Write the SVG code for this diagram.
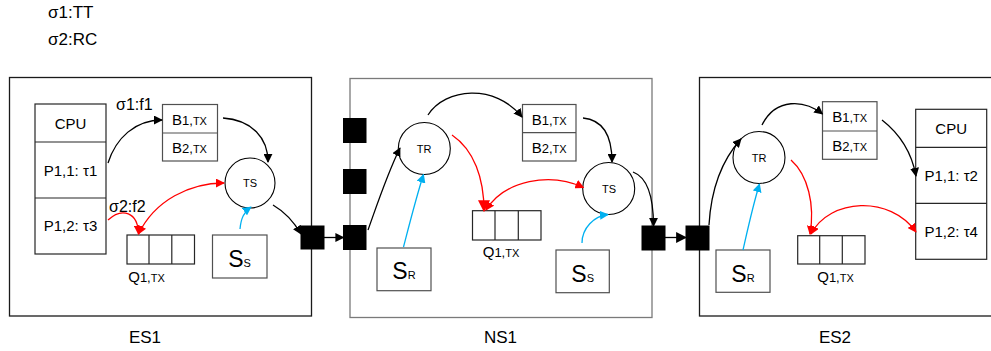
<svg xmlns="http://www.w3.org/2000/svg" width="991" height="351" viewBox="0 0 991 351">
<style>
text{font-family:"Liberation Sans",Arial,sans-serif;fill:#000}
.outer{fill:#fff;stroke:#1a1a1a;stroke-width:1.3}
.outerg{fill:#fff;stroke:#7a7a7a;stroke-width:1.3}
.box{fill:#fff;stroke:#262626;stroke-width:1.2}
.boxg{fill:#fff;stroke:#505050;stroke-width:1.2}
.port{fill:#000;stroke:#000}
.circ{fill:#fff;stroke:#000;stroke-width:1.1}
.lbl{font-size:17px;text-anchor:middle}
.cell{font-size:15px;text-anchor:middle}
.small{font-size:11px;text-anchor:middle}
.big{text-anchor:middle}
.k{fill:none;stroke:#000;stroke-width:1.3;marker-end:url(#ak)}
.r{fill:none;stroke:#ff0000;stroke-width:1.3;marker-end:url(#ar)}
.rr{fill:none;stroke:#ff0000;stroke-width:1.3;marker-start:url(#ar);marker-end:url(#ar)}
.b{fill:none;stroke:#00b0f0;stroke-width:1.3;marker-end:url(#ab)}
</style>
<defs>
<marker id="ak" viewBox="0 0 10 10" refX="9" refY="5" markerUnits="userSpaceOnUse" markerWidth="9" markerHeight="9" orient="auto-start-reverse"><path d="M0,0 L10,5 L0,10 z" fill="#000"/></marker>
<marker id="ar" viewBox="0 0 10 10" refX="9" refY="5" markerUnits="userSpaceOnUse" markerWidth="9" markerHeight="9" orient="auto-start-reverse"><path d="M0,0 L10,5 L0,10 z" fill="#ff0000"/></marker>
<marker id="arb" viewBox="0 0 10 10" refX="9" refY="5" markerUnits="userSpaceOnUse" markerWidth="12" markerHeight="12" orient="auto"><path d="M0,0 L10,5 L0,10 z" fill="#ff0000"/></marker>
<marker id="ab" viewBox="0 0 10 10" refX="9" refY="5" markerUnits="userSpaceOnUse" markerWidth="9" markerHeight="9" orient="auto"><path d="M0,0 L10,5 L0,10 z" fill="#00b0f0"/></marker>
<marker id="akb" viewBox="0 0 10 10" refX="9" refY="5" markerUnits="userSpaceOnUse" markerWidth="11" markerHeight="11" orient="auto"><path d="M0,0 L10,5 L0,10 z" fill="#000"/></marker>
</defs>

<text x="48" y="18" font-size="17">σ1:TT</text>
<text x="48" y="45" font-size="17">σ2:RC</text>

<!-- ES1 -->
<g id="ES1">
<rect class="outer" x="9.5" y="77.5" width="302" height="238.5"/>
<text class="lbl" x="145" y="343">ES1</text>
</g>
<g id="ES1-CPU">
<rect class="box" x="35" y="104" width="71" height="150"/>
<line x1="35" y1="142" x2="106" y2="142" stroke="#262626" stroke-width="1.2"/>
<line x1="35" y1="198" x2="106" y2="198" stroke="#262626" stroke-width="1.2"/>
<text class="cell" x="70.5" y="128.5">CPU</text>
<text class="cell" x="70.5" y="176">P1,1: τ1</text>
<text class="cell" x="70.5" y="231">P1,2: τ3</text>
</g>
<g id="ES1-B">
<rect class="boxg" x="162.5" y="104.5" width="55" height="56.5"/>
<line x1="162.5" y1="133" x2="217.5" y2="133" stroke="#505050" stroke-width="1.2"/>
<text class="big" x="189.5" y="124.5"><tspan font-size="15">B</tspan><tspan font-size="13">1,</tspan><tspan font-size="11">TX</tspan></text>
<text class="big" x="189.5" y="153"><tspan font-size="15">B</tspan><tspan font-size="13">2,</tspan><tspan font-size="11">TX</tspan></text>
</g>
<g id="ES1-TS">
<circle class="circ" cx="250" cy="183" r="25"/>
<text class="small" x="250" y="187">TS</text>
</g>
<g id="ES1-Q">
<rect class="box" x="127" y="235" width="67.5" height="29"/>
<line x1="149" y1="235" x2="149" y2="264" stroke="#262626" stroke-width="1.2"/>
<line x1="171.8" y1="235" x2="171.8" y2="264" stroke="#262626" stroke-width="1.2"/>
<text class="big" x="146.5" y="282"><tspan font-size="15">Q</tspan><tspan font-size="13">1,</tspan><tspan font-size="11">TX</tspan></text>
</g>
<g id="ES1-SS">
<rect class="boxg" x="212.5" y="235" width="54.5" height="43"/>
<text class="big" x="239.5" y="267"><tspan font-size="23">S</tspan><tspan font-size="11">S</tspan></text>
</g>
<g id="ES1-port">
<rect class="port" x="301" y="226" width="23" height="23"/>
</g>

<!-- NS1 -->
<g id="NS1">
<rect class="outerg" x="350" y="78.5" width="302" height="239"/>
<text class="lbl" x="500.5" y="343">NS1</text>
</g>
<g id="NS1-ports">
<rect class="port" x="343.5" y="118.5" width="22.5" height="24"/>
<rect class="port" x="343.5" y="169.5" width="22.5" height="24"/>
<rect class="port" x="343.5" y="225.5" width="22.5" height="24"/>
<rect class="port" x="642" y="226" width="23" height="24"/>
</g>
<g id="NS1-TR">
<circle class="circ" cx="424.3" cy="148.5" r="26"/>
<text class="small" x="424" y="152.5">TR</text>
</g>
<g id="NS1-B">
<rect class="boxg" x="522.5" y="104.5" width="53.5" height="56.5"/>
<line x1="522.5" y1="132.7" x2="576" y2="132.7" stroke="#505050" stroke-width="1.2"/>
<text class="big" x="549.2" y="124.5"><tspan font-size="15">B</tspan><tspan font-size="13">1,</tspan><tspan font-size="11">TX</tspan></text>
<text class="big" x="549.2" y="152.5"><tspan font-size="15">B</tspan><tspan font-size="13">2,</tspan><tspan font-size="11">TX</tspan></text>
</g>
<g id="NS1-TS">
<circle class="circ" cx="608.7" cy="188.5" r="26"/>
<text class="small" x="609" y="192.5">TS</text>
</g>
<g id="NS1-Q">
<rect class="box" x="472.5" y="210.7" width="68.5" height="29.3"/>
<line x1="495" y1="210.7" x2="495" y2="240" stroke="#262626" stroke-width="1.2"/>
<line x1="518.3" y1="210.7" x2="518.3" y2="240" stroke="#262626" stroke-width="1.2"/>
<text class="big" x="501" y="256.5"><tspan font-size="15">Q</tspan><tspan font-size="13">1,</tspan><tspan font-size="11">TX</tspan></text>
</g>
<g id="NS1-SR">
<rect class="boxg" x="377" y="248" width="54" height="42.7"/>
<text class="big" x="404" y="279"><tspan font-size="23">S</tspan><tspan font-size="11">R</tspan></text>
</g>
<g id="NS1-SS">
<rect class="boxg" x="556" y="250" width="53.3" height="42.7"/>
<text class="big" x="582.7" y="282"><tspan font-size="23">S</tspan><tspan font-size="11">S</tspan></text>
</g>

<!-- ES2 -->
<g id="ES2">
<rect class="outer" x="699.5" y="77.5" width="300" height="238.5"/>
<text class="lbl" x="835" y="343">ES2</text>
</g>
<g id="ES2-port">
<rect class="port" x="686" y="226" width="23" height="24"/>
</g>
<g id="ES2-TR">
<circle class="circ" cx="759" cy="157.5" r="26"/>
<text class="small" x="759" y="161.5">TR</text>
</g>
<g id="ES2-B">
<rect class="boxg" x="822.5" y="101.7" width="54.5" height="57.6"/>
<line x1="822.5" y1="131" x2="877" y2="131" stroke="#505050" stroke-width="1.2"/>
<text class="big" x="849.7" y="121.5"><tspan font-size="15">B</tspan><tspan font-size="13">1,</tspan><tspan font-size="11">TX</tspan></text>
<text class="big" x="849.7" y="150.5"><tspan font-size="15">B</tspan><tspan font-size="13">2,</tspan><tspan font-size="11">TX</tspan></text>
</g>
<g id="ES2-CPU">
<rect class="box" x="915.7" y="109.3" width="71" height="150"/>
<line x1="915.7" y1="147.3" x2="986.7" y2="147.3" stroke="#262626" stroke-width="1.2"/>
<line x1="915.7" y1="203.3" x2="986.7" y2="203.3" stroke="#262626" stroke-width="1.2"/>
<text class="cell" x="951.2" y="133.8">CPU</text>
<text class="cell" x="951.2" y="180.8">P1,1: τ2</text>
<text class="cell" x="951.2" y="236.8">P1,2: τ4</text>
</g>
<g id="ES2-Q">
<rect class="box" x="797.7" y="235.7" width="67.3" height="28.3"/>
<line x1="819.7" y1="235.7" x2="819.7" y2="264" stroke="#262626" stroke-width="1.2"/>
<line x1="842.3" y1="235.7" x2="842.3" y2="264" stroke="#262626" stroke-width="1.2"/>
<text class="big" x="835.5" y="282"><tspan font-size="15">Q</tspan><tspan font-size="13">1,</tspan><tspan font-size="11">TX</tspan></text>
</g>
<g id="ES2-SR">
<rect class="boxg" x="716" y="250" width="54" height="42.3"/>
<text class="big" x="743" y="282"><tspan font-size="23">S</tspan><tspan font-size="11">R</tspan></text>
</g>

<!-- connectors -->
<g id="connectors">
<!-- ES1 -->
<path class="k" d="M108,163 C116,138 135,120 162,120"/>
<text x="116" y="110" font-size="16">σ1:f1</text>
<path class="k" d="M223,118 C252,120 268,138 268,162"/>
<path class="rr" d="M138.5,234 C155,200 190,183 224,183"/>
<path class="r" d="M108,220 C122,207 138,212 138.5,234"/>
<text x="109" y="212" font-size="16">σ2:f2</text>
<path class="b" d="M240,229 C241,218 244,212 251,207"/>
<path class="k" d="M273,205 C285,212 294,222 301,234"/>
<path class="k" d="M324,237.5 L343.5,237.5"/>
<!-- NS1 -->
<path class="k" d="M368,230 C378,202 388,172 400,148"/>
<path class="b" d="M403.5,247 C410,222 416,198 423.5,174.5"/>
<path class="k" d="M428,115 C445,88 495,83 522,117"/>
<path class="k" d="M583,118 C604,120 612,138 612,162"/>
<path fill="none" stroke="#ff0000" stroke-width="1.3" marker-end="url(#arb)" d="M452,135 C474,150 484,178 484,211"/>
<path class="rr" d="M486,210 C505,180 550,172 583.5,187.5"/>
<path class="b" d="M582,243 C582,228 594,216 608,214.5"/>
<path class="k" d="M633,172 C649,178 653.5,200 653.5,226"/>
<path fill="none" stroke="#000" stroke-width="1.3" marker-end="url(#akb)" d="M665,237.5 L686,237.5"/>
<!-- ES2 -->
<path class="k" d="M709,225 C711,190 722,160 741,139"/>
<path class="b" d="M743,250 C748,228 753,205 759.5,184"/>
<path class="k" d="M762,125 C776,97 805,100 822.5,114"/>
<path class="k" d="M882,120 C900,134 912,154 916,176"/>
<path class="r" d="M791,160 C808,175 815,205 810,234"/>
<path class="rr" d="M811,234 C830,198 890,195 916,232"/>
</g>
</svg>
